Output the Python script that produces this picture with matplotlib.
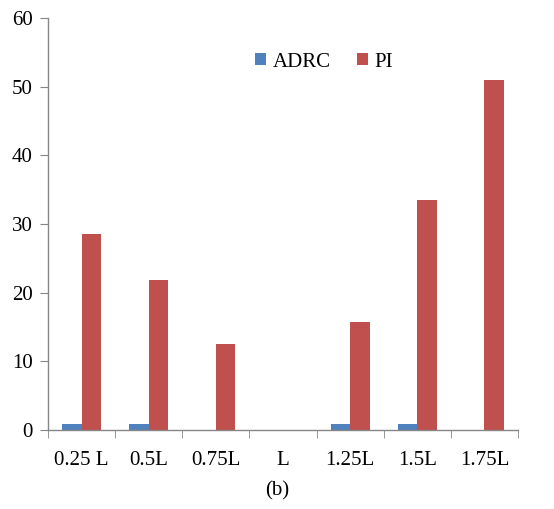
import matplotlib
matplotlib.use("Agg")
import matplotlib.pyplot as plt
import numpy as np

categories = ["0.25 L", "0.5L", "0.75L", "L", "1.25L", "1.5L", "1.75L"]
adrc = [0.9, 0.9, 0.0, 0.0, 0.9, 0.9, 0.0]
pi = [28.6, 21.9, 12.5, 0.0, 15.7, 33.5, 51.0]
yticks = [0, 10, 20, 30, 40, 50, 60]

plt.rcParams['font.family'] = ['Liberation Serif', 'DejaVu Serif']
FS = 15

fig = plt.figure(figsize=(5.54, 5.09), dpi=100)
ax = fig.add_axes([48/554, 79/509, 470/554, 412/509])

x = np.arange(len(categories))
w = 0.29
ax.bar(x - w/2, adrc, width=w, color="#4f81bd", label="ADRC")
ax.bar(x + w/2, pi, width=w, color="#c0504d", label="PI")

ax.set_xlim(-0.5, len(categories) - 0.5)
ax.set_ylim(0, 60)
ax.set_yticks(yticks)
ax.set_yticklabels([str(t) for t in yticks], fontsize=FS)
ax.set_xticks(x)
ax.set_xticklabels(categories, fontsize=FS)
ax.tick_params(axis='x', length=0, pad=15)
ax.set_xticks(np.arange(len(categories) + 1) - 0.5, minor=True)
ax.tick_params(axis='x', which='minor', length=6, color="#868686", direction='out')
ax.tick_params(axis='y', length=6, color="#868686", direction='out', pad=5)

for s in ["top", "right"]:
    ax.spines[s].set_visible(False)
for s in ["left", "bottom"]:
    ax.spines[s].set_color("#868686")
    ax.spines[s].set_linewidth(1.0)

leg = ax.legend(loc="center left", bbox_to_anchor=(0.44, 0.893), ncol=2, frameon=False,
                fontsize=FS, handlelength=0.55, handleheight=0.55, handletextpad=0.3,
                columnspacing=1.25, borderaxespad=0, borderpad=0)

fig.text(277/554, 1 - 491/509, "(b)", ha="center", va="center", fontsize=FS)

fig.savefig("out.png", dpi=100)
